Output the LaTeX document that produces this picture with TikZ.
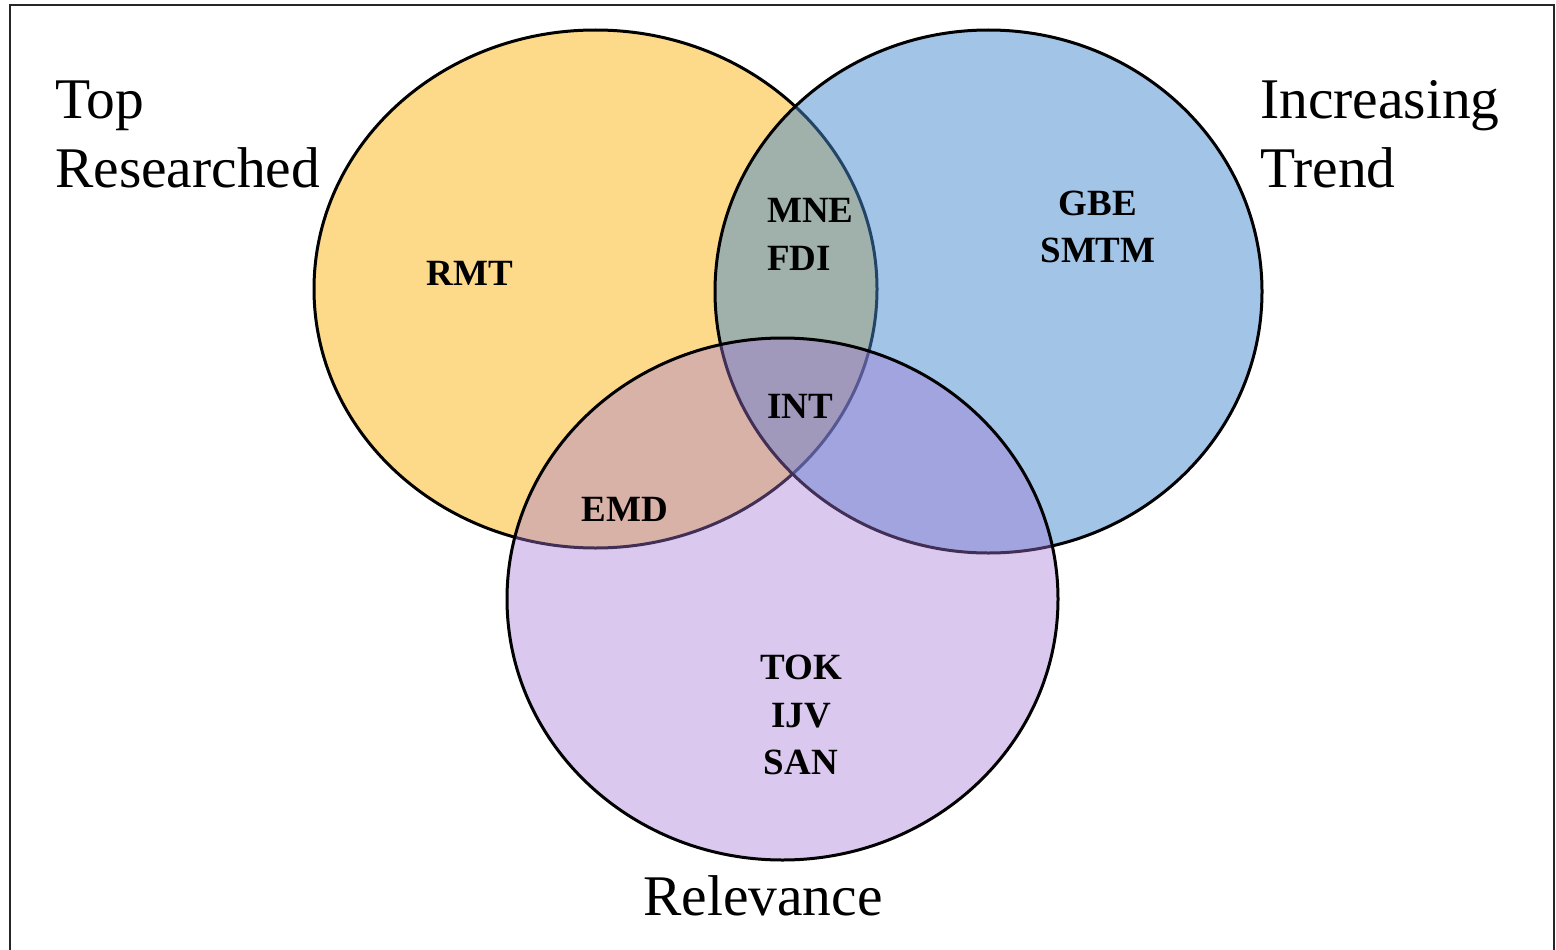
\documentclass[tikz,border=0pt]{standalone}
\usepackage{fontspec}
\setmainfont{Liberation Serif}
\definecolor{setY}{RGB}{251,179,21}
\definecolor{setB}{RGB}{69,137,207}
\definecolor{setP}{RGB}{163,118,213}
\tikzset{
  setshape/.style={draw=black, line width=3pt, fill opacity=0.5},
  outer/.style={inner sep=0pt, font=\fontsize{57.5}{69}\selectfont},
  inlab/.style={inner sep=0pt, font=\fontsize{37}{48}\selectfont\bfseries},
}
\begin{document}
\begin{tikzpicture}[x=1pt, y=-1pt]
\useasboundingbox (0,0) rectangle (1556,950);
\draw[line width=2pt, draw=black!85] (10,5) rectangle (1554,970);
% sets
\path[setshape, fill=setY] (595.5,289) ellipse [x radius=281.5, y radius=259];
\path[setshape, fill=setB] (988.5,291.5) ellipse [x radius=273.5, y radius=261.5];
\path[setshape, fill=setP, fill opacity=0.4] (782.5,599) ellipse [x radius=275.5, y radius=261];
% outer labels
\node[outer, anchor=base west] (top) at (55,118) {Top};
\node[outer, anchor=base west] (res) at (55,187) {Researched};
\node[outer, anchor=base west] (inc) at (1260,118) {Increasing};
\node[outer, anchor=base west] (trend) at (1260,187) {Trend};
\node[outer, anchor=base] (rel) at (763,915) {Relevance};
% inner labels
\node[inlab, anchor=base] (rmt) at (470,285) {RMT};
\node[inlab, anchor=base west] (mne) at (767,222) {MNE};
\node[inlab, anchor=base west] (fdi) at (767,270) {FDI};
\node[inlab, anchor=base] (gbe) at (1098,215) {GBE};
\node[inlab, anchor=base] (smtm) at (1098,262) {SMTM};
\node[inlab, anchor=base] (int) at (800,418) {INT};
\node[inlab, anchor=base] (emd) at (625,521) {EMD};
\node[inlab, anchor=base] (tok) at (801,679) {TOK};
\node[inlab, anchor=base] (ijv) at (801,727) {IJV};
\node[inlab, anchor=base] (san) at (801,774) {SAN};
\end{tikzpicture}
\end{document}
